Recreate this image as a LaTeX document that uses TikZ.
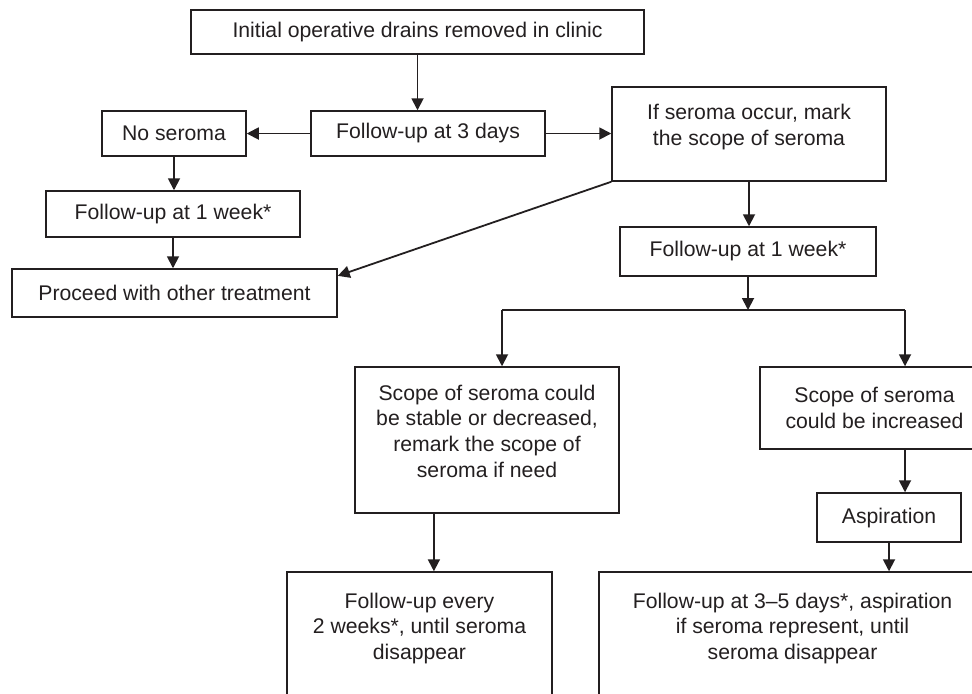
\documentclass[tikz,border=0pt]{standalone}
\usepackage{fontspec}
\setmainfont{Liberation Sans}
\usetikzlibrary{arrows.meta,calc}
\definecolor{ink}{HTML}{231F20}

\begin{document}
\begin{tikzpicture}[x=0.5pt, y=-0.5pt, color=ink, line width=0.9pt,
    box/.style={draw, line width=0.75pt, rectangle, inner sep=0pt,
      align=center, font=\fontsize{10.6}{12.8}\selectfont},
    >={Triangle[length=6pt, width=6pt]}]
    \useasboundingbox (0,0) rectangle (972,693);
    \fill[white] (0,0) rectangle (972,693);
    \clip (0,0) rectangle (972,693);

    \node[box, minimum width=226.5pt, minimum height=22pt] (init) at (417.5, 32) {Initial operative drains removed in clinic};
    \node[box, minimum width=117pt, minimum height=22.5pt] (fu3) at (428, 133.5) {Follow-up at 3 days};
    \node[box, minimum width=72pt, minimum height=22.5pt] (noser) at (174, 133.5) {No seroma};
    \node[box, minimum width=137pt, minimum height=47pt, text depth=9pt] (ifser) at (749, 134) {If seroma occur, mark\\the scope of seroma};
    \node[box, minimum width=127pt, minimum height=23pt] (fuL) at (173, 214) {Follow-up at 1 week*};
    \node[box, minimum width=162.5pt, minimum height=24pt] (proceed) at (174.5, 293) {Proceed with other treatment};
    \node[box, minimum width=128pt, minimum height=24.5pt] (fuR) at (748, 251.5) {Follow-up at 1 week*};
    \node[box, minimum width=132pt, minimum height=73pt, text depth=9pt] (stable) at (487, 440) {Scope of seroma could\\be stable or decreased,\\remark the scope of\\seroma if need};
    \node[box, minimum width=114.5pt, minimum height=41pt] (incr) at (874.5, 408) {Scope of seroma\\could be increased};
    \node[box, minimum width=72pt, minimum height=24.5pt] (aspir) at (889, 517.5) {Aspiration};
    \node[box, minimum width=132.5pt, minimum height=74pt, text depth=20pt] (fuweeks) at (419.5, 646) {Follow-up every\\2 weeks*, until seroma\\disappear};
    \node[box, minimum width=193.5pt, minimum height=74pt, text depth=20pt] (fudays) at (792.5, 646) {Follow-up at 3--5 days*, aspiration\\if seroma represent, until\\seroma disappear};

    % 分岐の横線
    \coordinate (barL) at (502, 310);
    \coordinate (barR) at (905, 310);

    % 矢印を引く
    \draw[->] (init.south) -- (init.south |- fu3.north);
    \draw[->] (fu3.west) -- (fu3.west -| noser.east);
    \draw[->] (fu3.east) -- (fu3.east -| ifser.west);
    \draw[->] (noser.south) -- (noser.south |- fuL.north);
    \draw[->] (fuL.south) -- (fuL.south |- proceed.north);
    \draw[->] (ifser.south west) -- (proceed.6);
    \draw[->] (ifser.south) -- (ifser.south |- fuR.north);
    \draw[->] (fuR.south) -- (fuR.south |- barL);
    \draw (barL) -- (barR);
    \draw[->] (barL) -- (barL |- stable.north);
    \draw[->] (barR) -- (barR |- incr.north);
    \draw[->] (incr.south -| barR) -- (aspir.north -| barR);
    \draw[->] ($(stable.south west)!0.3!(stable.south east)$) coordinate (s) -- (s |- fuweeks.north);
    \draw[->] (aspir.south) -- (aspir.south |- fudays.north);
\end{tikzpicture}
\end{document}
